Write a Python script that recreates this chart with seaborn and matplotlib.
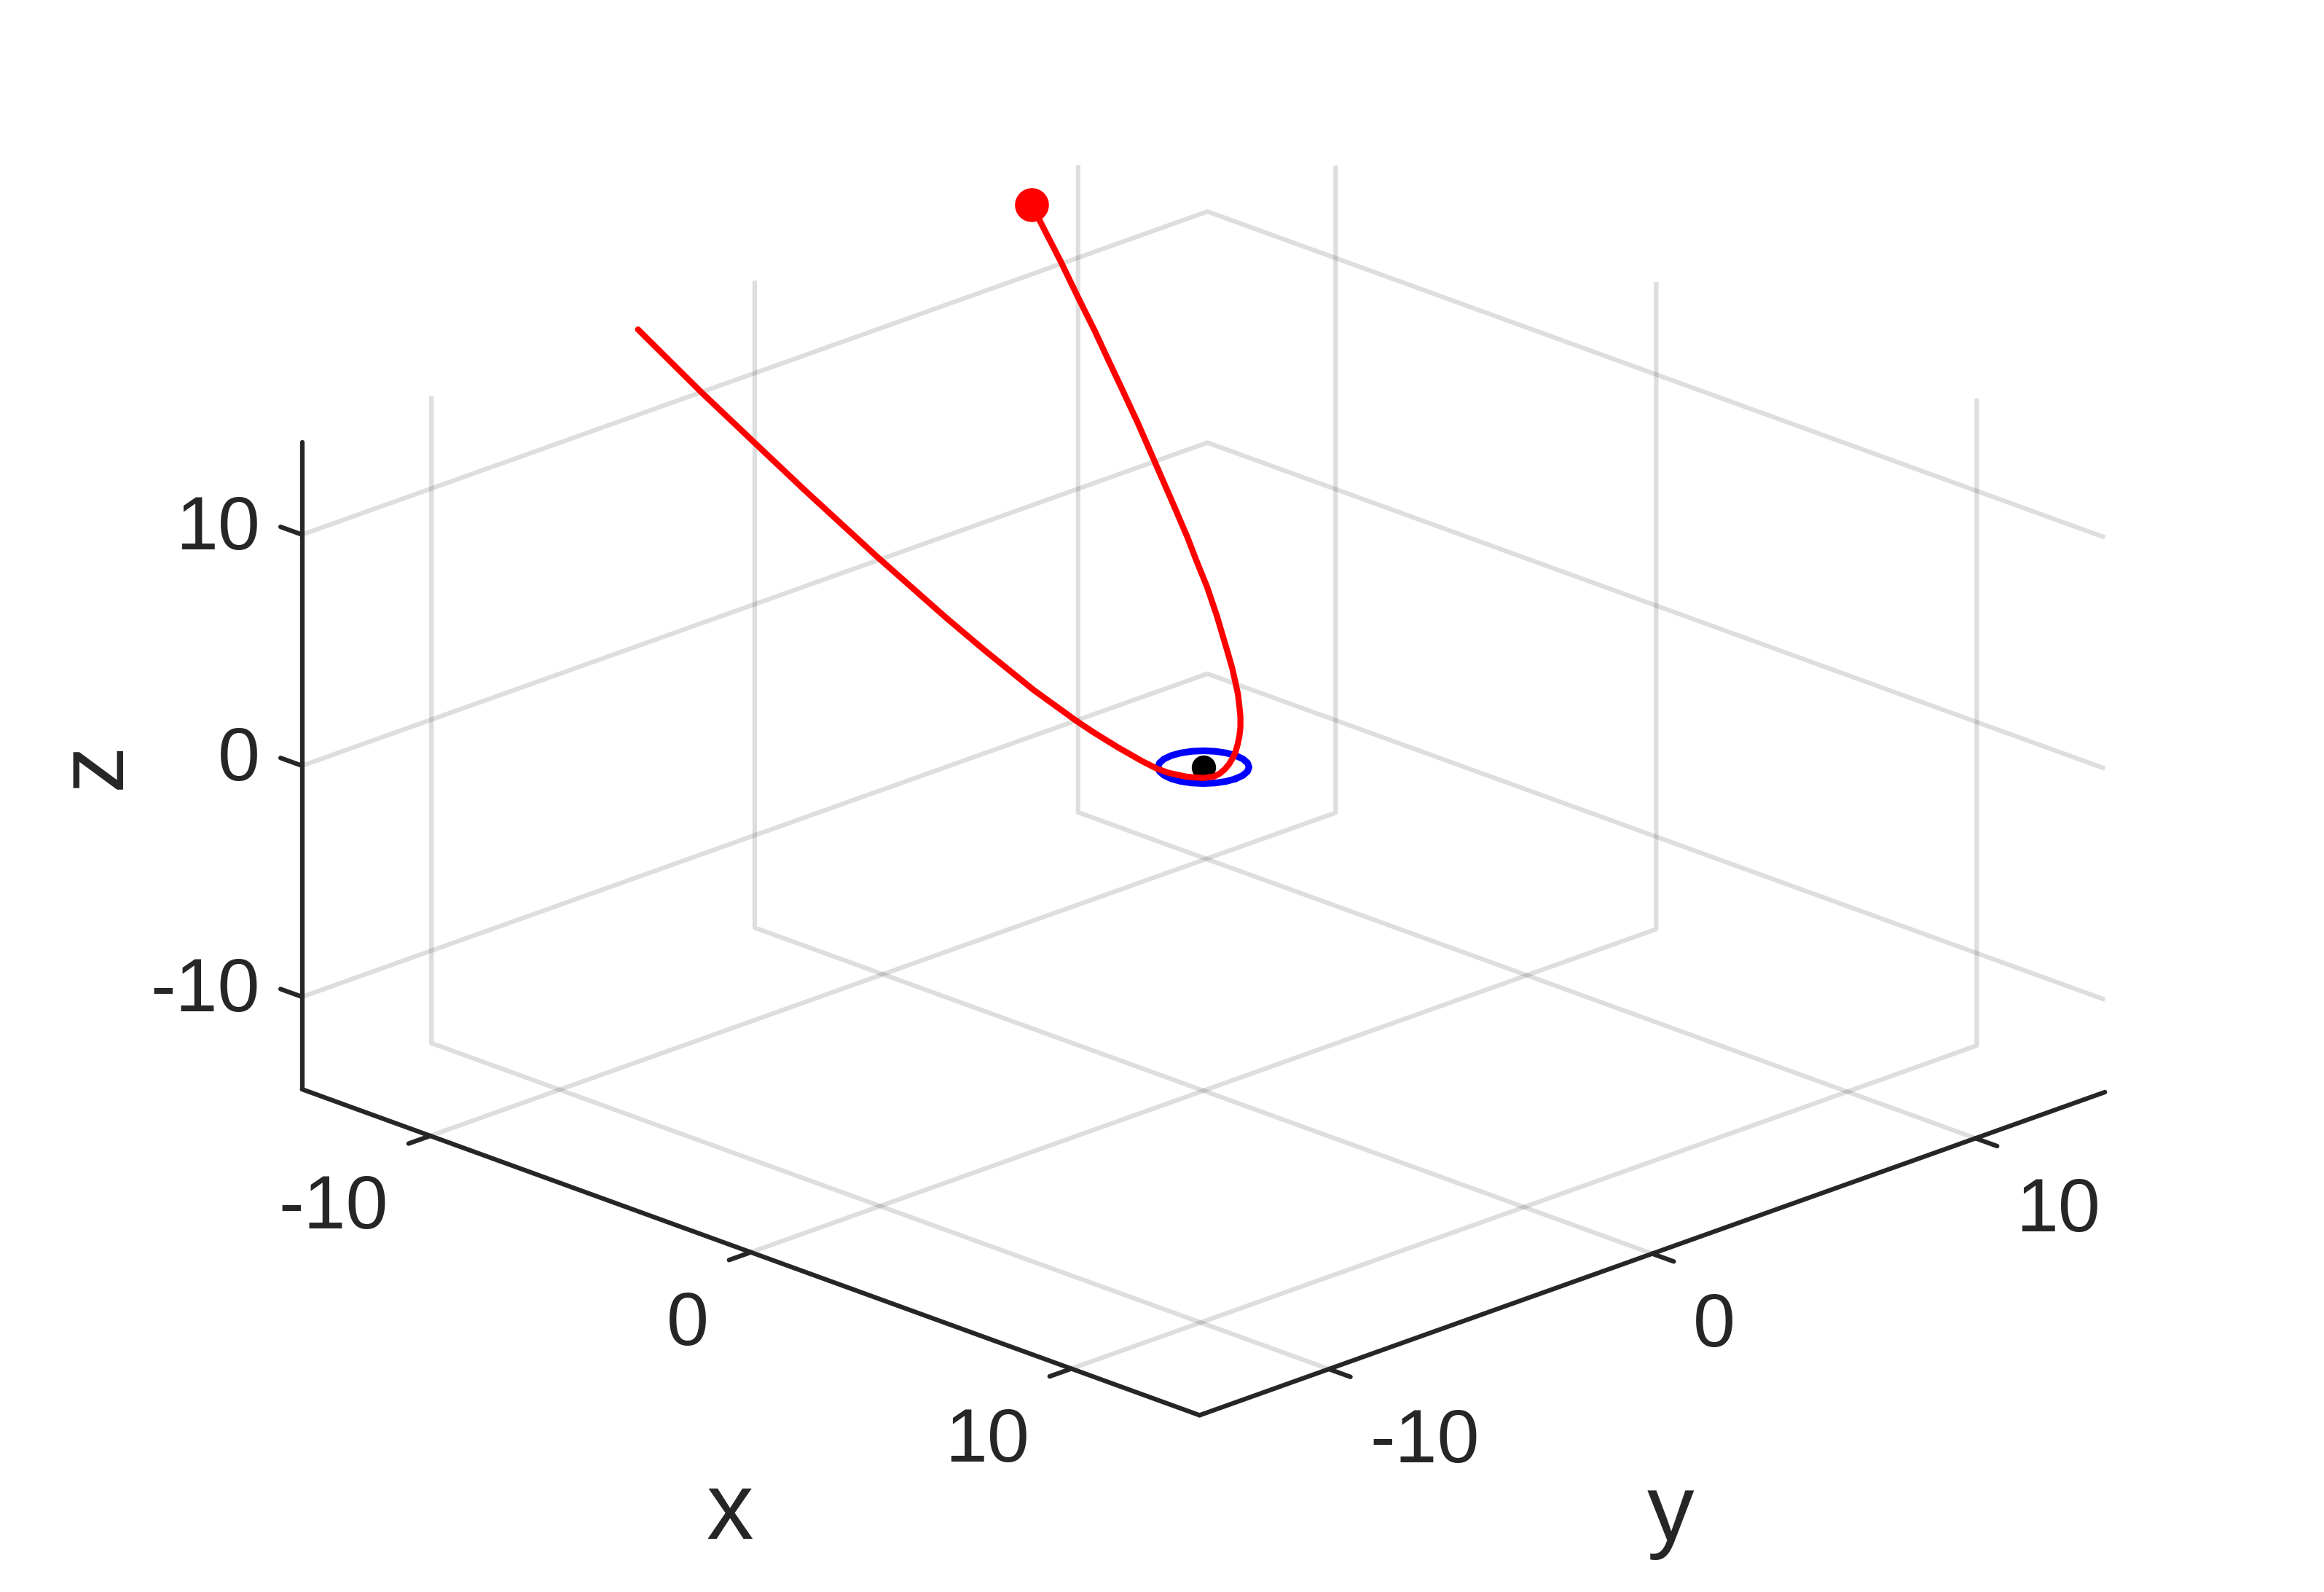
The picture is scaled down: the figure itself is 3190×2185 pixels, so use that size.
# Flyby trajectory around a small orbit, 3D view

import numpy as np
import matplotlib
matplotlib.use('Agg')
import matplotlib.pyplot as plt
from matplotlib.transforms import ScaledTranslation
import seaborn as sns

# Trajectory
traj_x = [-13.98, -12.25, -10.72, -9.50, -7.58, -5.76, -4.77, -3.55, -2.51, -2.12, -1.56, -1.02, -0.71, -0.47, -0.16, 0.12,
          0.34, 0.37, 0.37, 0.34, 0.29, 0.22, 0.11, -0.01, -0.155, -0.33, -0.52, -0.79, -1.07, -1.34, -1.67,
          -2.55, -3.23, -3.84, -4.42, -5.14, -6.45, -7.27, -8.07,
          -8.81, -9.61, -10.44, -11.43, -12.52, -12.90]
traj_y = [-3.63, -3.39, -3.14, -2.94, -2.60, -2.24, -2.02, -1.73, -1.43, -1.30, -1.10, -0.88, -0.74, -0.61, -0.38, -0.14,
          0.0, 0.13, 0.29, 0.45, 0.61, 0.77, 0.95, 1.12, 1.295, 1.47, 1.63, 1.85, 2.04, 2.22, 2.42,
          2.94, 3.31, 3.60, 3.89, 4.22, 4.81, 5.18, 5.52,
          5.83, 6.17, 6.50, 6.90, 7.32, 7.47]
traj_z = [13.71, 11.75, 10.05, 8.70, 6.61, 4.67, 3.64, 2.41, 1.44, 1.09, 0.62, 0.18, -0.05, -0.18, -0.30, -0.34,
          -0.23, -0.16, -0.05, 0.07, 0.22, 0.38, 0.58, 0.78, 1.00, 1.24, 1.50, 1.83, 2.16, 2.48, 2.84,
          3.80, 4.53, 5.16, 5.76, 6.49, 7.81, 8.63, 9.42,
          10.15, 10.94, 11.74, 12.72, 13.76, 14.10]

# Small orbit in the z=0 plane
orbit_x = [1.0, 0.966, 0.866, 0.707, 0.5, 0.259, 0.0, -0.259, -0.5, -0.707, -0.866, -0.966,
           -1.0, -0.966, -0.866, -0.707, -0.5, -0.259, 0.0, 0.259, 0.5, 0.707, 0.866, 0.966, 1.0]
orbit_y = [0.0, 0.259, 0.5, 0.707, 0.866, 0.966, 1.0, 0.966, 0.866, 0.707, 0.5, 0.259,
           0.0, -0.259, -0.5, -0.707, -0.866, -0.966, -1.0, -0.966, -0.866, -0.707, -0.5, -0.259, 0.0]
orbit_z = [0.0] * 25

center = [0.0, 0.0, 0.0]
ticks = [-10, 0, 10]
tick_labels = ['-10', '0', '10']
limits = (-14, 14)

sns.set_theme(style="white")
dark = '#262626'
plt.rcParams['font.family'] = ['Liberation Sans', 'DejaVu Sans']

fig = plt.figure(figsize=(3190 / 300, 2185 / 300), dpi=300)
ax = fig.add_axes([0.0086, 0.0046, 1.0, 1.0], projection='3d', proj_type='ortho', computed_zorder=False)
ax.view_init(elev=21.1, azim=-44.75)
ax.set_box_aspect((1, 1, 0.544), zoom=1.178)

ax.plot(orbit_x, orbit_y, orbit_z, color='#0000ff', lw=2.2, zorder=3)
ax.scatter(*[[c] for c in center], color='black', s=64, depthshade=False, linewidths=0, zorder=4)
ax.plot(traj_x, traj_y, traj_z, color='#ff0000', lw=2.0, zorder=5)
ax.scatter([traj_x[-1]], [traj_y[-1]], [traj_z[-1]], color='#ff0000', s=125, depthshade=False, linewidths=0, zorder=6)

ax.set_xlim(limits)
ax.set_ylim(limits)
ax.set_zlim(limits)
ax.set_xticks(ticks, tick_labels)
ax.set_yticks(ticks, tick_labels)
ax.set_zticks(ticks, tick_labels)

for axis in [ax.xaxis, ax.yaxis, ax.zaxis]:
    axis.set_pane_color((1, 1, 1, 0))
    axis.pane.set_edgecolor('none')
    axis.line.set_color(dark)
    axis.line.set_linewidth(1.5)
    axis._axinfo['grid'].update(color=(0.15, 0.15, 0.15, 0.15), linewidth=1.5, linestyle='-')
    axis._axinfo['tick'].update(inward_factor=0.3, outward_factor=0.0, linewidth={True: 1.5, False: 1.0})

# z ticks point along x like the reference
ax.zaxis.set_ticks_position('lower')
ax.zaxis.set_label_position('lower')
ax.zaxis._get_tickdir = lambda position: 0
ax.zaxis._axinfo['tick'].update(inward_factor=0.0, outward_factor=0.3)

ax.tick_params(axis='x', labelsize=25, colors=dark, pad=3)
ax.tick_params(axis='y', labelsize=25, colors=dark, pad=3)
ax.tick_params(axis='z', labelsize=25, colors=dark, pad=-1.6)
plt.setp(ax.get_xticklabels(), ha='right')
plt.setp(ax.get_yticklabels(), ha='left')
plt.setp(ax.get_zticklabels(), ha='right', va='center')


def nudge(text, dx, dy):
    # shift a text by some points after the 3D axis has placed it
    off = ScaledTranslation(dx / 72, dy / 72, fig.dpi_scale_trans)
    text.get_transform = lambda: ax.transData + off


for lab in ax.get_xticklabels():
    nudge(lab, -1.9, 0.3)
for lab in ax.get_yticklabels():
    nudge(lab, 1.5, 0.3)
for lab in ax.get_zticklabels():
    nudge(lab, 0, 1.5)

ax.set_xlabel('x', fontsize=31, color=dark, labelpad=22)
ax.set_ylabel('y', fontsize=31, color=dark, labelpad=22)
ax.zaxis.set_rotate_label(False)
ax.set_zlabel('z', fontsize=31, color=dark, labelpad=0, rotation=90)
nudge(ax.xaxis.label, 40, -36)
nudge(ax.yaxis.label, -40.5, -36)
nudge(ax.zaxis.label, -22.4, 0)

plt.savefig("out.png", dpi=300)
